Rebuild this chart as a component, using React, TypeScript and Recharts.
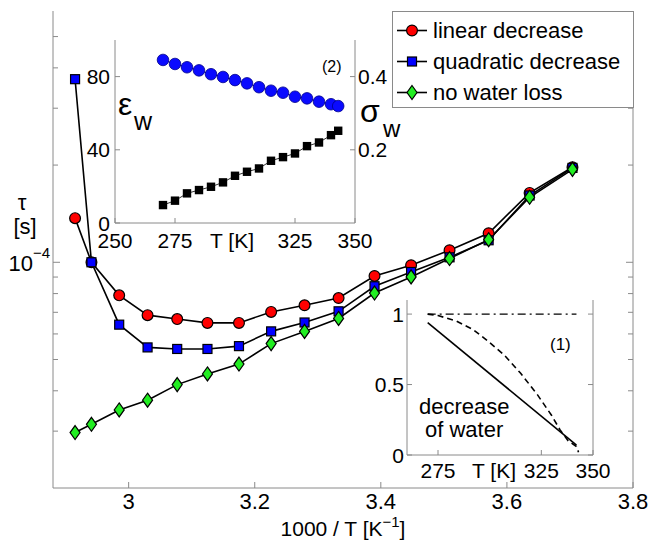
import React from "react";
import { LineChart, Line, XAxis, YAxis, Legend } from "recharts";

const FONT = "'Liberation Sans', Arial, Helvetica, sans-serif";
const AXIS = "#8a8a8a";

// main panel: relaxation time vs 1000/T
const invT = [2.915, 2.941, 2.985, 3.03, 3.077, 3.125, 3.175, 3.226, 3.279, 3.333, 3.39, 3.448, 3.509, 3.571, 3.636, 3.704];
const tauLinear = [1.37e-4, 1.0e-4, 7.9e-5, 6.86e-5, 6.67e-5, 6.49e-5, 6.49e-5, 7.02e-5, 7.36e-5, 7.75e-5, 9.07e-5, 9.79e-5, 1.09e-4, 1.23e-4, 1.64e-4, 1.97e-4];
const tauQuadratic = [3.69e-4, 1.0e-4, 6.41e-5, 5.45e-5, 5.39e-5, 5.39e-5, 5.5e-5, 6.11e-5, 6.51e-5, 7.05e-5, 8.43e-5, 9.33e-5, 1.036e-4, 1.17e-4, 1.61e-4, 1.96e-4];
const tauNoLoss = [2.97e-5, 3.15e-5, 3.49e-5, 3.74e-5, 4.18e-5, 4.51e-5, 4.84e-5, 5.6e-5, 6.11e-5, 6.7e-5, 8.03e-5, 9.01e-5, 1.027e-4, 1.175e-4, 1.59e-4, 1.94e-4];
const xTicks = [3, 3.2, 3.4, 3.6, 3.8];
const yTicks = [3e-5, 4e-5, 5e-5, 6e-5, 7e-5, 8e-5, 9e-5, 1e-4, 2e-4, 3e-4, 4e-4, 5e-4];

// inset (2): permittivity and conductivity of water
const tempK = [270, 275, 280, 285, 290, 295, 300, 305, 310, 315, 320, 325, 330, 335, 340, 343];
const epsW = [89.1, 86.9, 85.1, 83.4, 81.3, 79.8, 78.1, 76.3, 74.2, 72.3, 71.2, 69.0, 68.1, 66.3, 64.9, 63.9];
const sigmaW = [0.049, 0.061, 0.081, 0.09, 0.099, 0.111, 0.129, 0.14, 0.149, 0.17, 0.18, 0.19, 0.21, 0.22, 0.24, 0.252];

// inset (1): water content vs T
const linT = [270, 342];
const linF = [0.94, 0.07];
const quadT = [270, 275, 284, 292, 299, 307, 315, 323, 330, 334, 338, 342, 343];
const quadF = [1.0, 0.99, 0.95, 0.89, 0.81, 0.71, 0.58, 0.43, 0.28, 0.18, 0.1, 0.06, 0.02];
const constT = [270, 342];
const constF = [1, 1];

const SERIES = [
  { key: "lin", name: "linear decrease", color: "#ff0000", marker: "circle" },
  { key: "quad", name: "quadratic decrease", color: "#0000ff", marker: "square" },
  { key: "none", name: "no water loss", color: "#22ee22", marker: "diamond" },
];

function Marker({ cx, cy, kind, color }: { cx: number; cy: number; kind: string; color: string }) {
  if (kind === "square")
    return <rect x={cx - 4.5} y={cy - 4.5} width={9} height={9} fill={color} stroke="#000" strokeWidth={1.2} />;
  if (kind === "diamond")
    return (
      <path d={`M${cx},${cy - 7}L${cx + 5},${cy}L${cx},${cy + 7}L${cx - 5},${cy}Z`} fill={color} stroke="#000" strokeWidth={1.2} />
    );
  return <circle cx={cx} cy={cy} r={5.4} fill={color} stroke="#000" strokeWidth={1.2} />;
}

type TickProps = {
  x?: number;
  y?: number;
  payload?: { value: number };
  side: "bottom" | "top" | "left" | "right";
  len: number;
  size?: number;
  gap?: number;
  fmt?: (v: number) => string | null;
};

function AxisTick({ x = 0, y = 0, payload, side, len, size = 22, gap = 4, fmt }: TickProps) {
  const v = payload ? payload.value : 0;
  const label = fmt ? fmt(v) : null;
  let line: React.ReactNode = null;
  let text: React.ReactNode = null;
  const ts = { fontSize: size, fontFamily: FONT, fill: "#000" };
  if (side === "bottom") {
    line = <line x1={x} x2={x} y1={y} y2={y - len} stroke={AXIS} />;
    if (label) text = <text x={x} y={y + gap} textAnchor="middle" {...ts}>{label}</text>;
  } else if (side === "top") {
    line = <line x1={x} x2={x} y1={y} y2={y + len} stroke={AXIS} />;
  } else if (side === "left") {
    line = <line x1={x} x2={x + len} y1={y} y2={y} stroke={AXIS} />;
    if (label) text = <text x={x - gap} y={y + size * 0.36} textAnchor="end" {...ts}>{label}</text>;
  } else {
    line = <line x1={x} x2={x - len} y1={y} y2={y} stroke={AXIS} />;
    if (label) text = <text x={x + gap} y={y + size * 0.36} textAnchor="start" {...ts}>{label}</text>;
  }
  return (
    <g>
      {line}
      {text}
    </g>
  );
}

function MainYTick({ x = 0, y = 0, payload }: { x?: number; y?: number; payload?: { value: number } }) {
  const v = payload ? payload.value : 0;
  const major = v === 1e-4;
  return (
    <g>
      <line x1={x} x2={x + (major ? 7 : 5)} y1={y} y2={y} stroke={AXIS} />
      {major && (
        <text x={x - 3} y={y + 9} textAnchor="end" fontFamily={FONT} fontSize={22} fill="#000">
          10<tspan dy={-13} fontSize={15}>−4</tspan>
        </text>
      )}
    </g>
  );
}

function LegendBox() {
  return (
    <div
      style={{
        width: 242,
        height: 97,
        boxSizing: "border-box",
        border: `1px solid ${AXIS}`,
        background: "#fff",
        paddingTop: 3,
        fontFamily: FONT,
      }}
    >
      {SERIES.map((s) => (
        <div key={s.key} style={{ display: "flex", alignItems: "center", height: 31 }}>
          <svg width={40} height={31} style={{ flex: "none" }}>
            <line x1={4} x2={34} y1={15.5} y2={15.5} stroke="#000" strokeWidth={1.6} />
            <Marker cx={19} cy={15.5} kind={s.marker} color={s.color} />
          </svg>
          <span style={{ fontSize: 22, color: "#000", whiteSpace: "nowrap" }}>{s.name}</span>
        </div>
      ))}
    </div>
  );
}

function MainChart() {
  const data = invT.map((x, i) => ({ x, lin: tauLinear[i], quad: tauQuadratic[i], none: tauNoLoss[i] }));
  const xfmt = (v: number) => String(v);
  return (
    <LineChart width={650} height={540} data={data} margin={{ top: 11, right: 0, bottom: 0, left: 0 }}>
      <XAxis
        dataKey="x"
        type="number"
        domain={[2.88, 3.8]}
        ticks={xTicks}
        interval={0}
        height={52}
        tickSize={0}
        tickMargin={0}
        axisLine={{ stroke: AXIS }}
        tick={(p: any) => <AxisTick {...p} side="bottom" len={6} gap={21} fmt={xfmt} />}
      />
      <XAxis
        xAxisId="top"
        orientation="top"
        dataKey="x"
        type="number"
        domain={[2.88, 3.8]}
        ticks={xTicks}
        interval={0}
        height={0}
        tickSize={0}
        tickMargin={0}
        axisLine={{ stroke: AXIS }}
        tick={(p: any) => <AxisTick {...p} side="top" len={6} />}
      />
      <YAxis
        type="number"
        scale="log"
        domain={[2e-5, 6e-4]}
        ticks={yTicks}
        interval={0}
        width={53}
        tickSize={0}
        tickMargin={0}
        axisLine={{ stroke: AXIS }}
        tick={(p: any) => <MainYTick {...p} />}
      />
      <YAxis
        yAxisId="right"
        orientation="right"
        type="number"
        scale="log"
        domain={[2e-5, 6e-4]}
        ticks={yTicks}
        interval={0}
        width={17}
        tickSize={0}
        tickMargin={0}
        axisLine={{ stroke: AXIS }}
        tick={(p: any) => <AxisTick {...p} side="right" len={p.payload && p.payload.value === 1e-4 ? 7 : 5} />}
      />
      <Line
        xAxisId="top"
        yAxisId="right"
        dataKey="none"
        stroke="none"
        dot={false}
        legendType="none"
        isAnimationActive={false}
      />
      {SERIES.map((s) => (
        <Line
          key={s.key}
          dataKey={s.key}
          name={s.name}
          type="linear"
          stroke="#000"
          strokeWidth={1.6}
          isAnimationActive={false}
          dot={(p: any) => <Marker key={p.index} cx={p.cx} cy={p.cy} kind={s.marker} color={s.color} />}
        />
      ))}
      <Legend
        layout="vertical"
        align="center"
        verticalAlign="middle"
        wrapperStyle={{ left: 392, top: 11, width: 242, height: 97 }}
        content={() => <LegendBox />}
      />
    </LineChart>
  );
}

function InsetProperties() {
  const data = tempK.map((t, i) => ({ t, eps: epsW[i], sigma: sigmaW[i] }));
  return (
    <LineChart width={650} height={540} data={data} margin={{ top: 40, right: 255, bottom: 287, left: 75 }}>
      <XAxis
        dataKey="t"
        type="number"
        domain={[250, 350]}
        ticks={[250, 275, 325, 350]}
        interval={0}
        height={30}
        tickSize={0}
        tickMargin={0}
        axisLine={{ stroke: AXIS }}
        tick={(p: any) => <AxisTick {...p} side="bottom" len={5} size={21} gap={25} fmt={(v) => String(v)} />}
      />
      <XAxis
        xAxisId="top"
        orientation="top"
        dataKey="t"
        type="number"
        domain={[250, 350]}
        ticks={[250, 275, 325, 350]}
        interval={0}
        height={0}
        tickSize={0}
        tickMargin={0}
        axisLine={{ stroke: AXIS }}
        tick={(p: any) => <AxisTick {...p} side="top" len={5} />}
      />
      <YAxis
        yAxisId="eps"
        type="number"
        domain={[0, 100]}
        ticks={[0, 40, 80]}
        interval={0}
        width={40}
        tickSize={0}
        tickMargin={0}
        axisLine={{ stroke: AXIS }}
        tick={(p: any) => <AxisTick {...p} side="left" len={5} size={21} gap={5} fmt={(v) => String(v)} />}
      />
      <YAxis
        yAxisId="sig"
        orientation="right"
        type="number"
        domain={[0, 0.5]}
        ticks={[0.2, 0.4]}
        interval={0}
        width={40}
        tickSize={0}
        tickMargin={0}
        axisLine={{ stroke: AXIS }}
        tick={(p: any) => <AxisTick {...p} side="right" len={5} size={21} gap={3} fmt={(v) => String(v)} />}
      />
      <Line xAxisId="top" yAxisId="eps" dataKey="eps" stroke="none" dot={false} isAnimationActive={false} />
      <Line
        yAxisId="eps"
        dataKey="eps"
        stroke="#00006a"
        strokeWidth={0.8}
        isAnimationActive={false}
        dot={(p: any) => <circle key={p.index} cx={p.cx} cy={p.cy} r={5.8} fill="#0a0aff" stroke="#00008a" strokeWidth={0.8} />}
      />
      <Line
        yAxisId="sig"
        dataKey="sigma"
        stroke="#000"
        strokeWidth={0.8}
        isAnimationActive={false}
        dot={(p: any) => <rect key={p.index} x={p.cx - 4.2} y={p.cy - 4.2} width={8.4} height={8.4} fill="#000" />}
      />
    </LineChart>
  );
}

function InsetWater() {
  const lin = linT.map((t, i) => ({ t, f: linF[i] }));
  const quad = quadT.map((t, i) => ({ t, f: quadF[i] }));
  const flat = constT.map((t, i) => ({ t, f: constF[i] }));
  return (
    <LineChart width={650} height={540} margin={{ top: 300, right: 37, bottom: 55, left: 367 }}>
      <XAxis
        dataKey="t"
        type="number"
        domain={[260, 350]}
        ticks={[275, 325, 350]}
        interval={0}
        height={30}
        tickSize={0}
        tickMargin={0}
        axisLine={{ stroke: AXIS }}
        tick={(p: any) => <AxisTick {...p} side="bottom" len={5} size={21} gap={23} fmt={(v) => String(v)} />}
      />
      <XAxis
        xAxisId="top"
        orientation="top"
        dataKey="t"
        type="number"
        domain={[260, 350]}
        ticks={[275, 325, 350]}
        interval={0}
        height={0}
        tickSize={0}
        tickMargin={0}
        axisLine={{ stroke: AXIS }}
        tick={(p: any) => <AxisTick {...p} side="top" len={5} />}
      />
      <YAxis
        type="number"
        domain={[0, 1.1]}
        ticks={[0, 0.5, 1]}
        interval={0}
        width={40}
        tickSize={0}
        tickMargin={0}
        axisLine={{ stroke: AXIS }}
        tick={(p: any) => <AxisTick {...p} side="left" len={5} size={21} gap={3} fmt={(v) => String(v)} />}
      />
      <YAxis
        yAxisId="right"
        orientation="right"
        type="number"
        domain={[0, 1.1]}
        ticks={[0, 0.5, 1]}
        interval={0}
        width={20}
        tickSize={0}
        tickMargin={0}
        axisLine={{ stroke: AXIS }}
        tick={(p: any) => <AxisTick {...p} side="right" len={5} />}
      />
      <Line xAxisId="top" yAxisId="right" data={flat} dataKey="f" stroke="none" dot={false} isAnimationActive={false} />
      <Line data={flat} dataKey="f" stroke="#000" strokeWidth={1.4} strokeDasharray="8 4 2 4" dot={false} isAnimationActive={false} />
      <Line data={quad} dataKey="f" type="linear" stroke="#000" strokeWidth={1.6} strokeDasharray="6 4" dot={false} isAnimationActive={false} />
      <Line data={lin} dataKey="f" stroke="#000" strokeWidth={1.6} dot={false} isAnimationActive={false} />
    </LineChart>
  );
}

function Annotations() {
  const t = { fontFamily: FONT, fill: "#000" };
  return (
    <svg width={650} height={540} style={{ position: "absolute", left: 0, top: 0, pointerEvents: "none" }}>
      <text x={22} y={210} textAnchor="middle" fontSize={22} {...t}>τ</text>
      <text x={25} y={234} textAnchor="middle" fontSize={22} {...t}>[s]</text>
      <text x={343} y={536} textAnchor="middle" fontSize={21} {...t}>
        1000 / T [K<tspan dy={-9} fontSize={15}>−1</tspan>
        <tspan dy={9}>]</tspan>
      </text>
      <text x={118} y={115} fontSize={32} {...t}>ε</text>
      <text x={134} y={130} fontSize={25} {...t}>w</text>
      <text x={360} y={122} fontSize={32} {...t}>σ</text>
      <text x={383} y={137} fontSize={24} {...t}>w</text>
      <text x={322} y={72} fontSize={16} {...t}>(2)</text>
      <text x={232} y={248} textAnchor="middle" fontSize={21} {...t}>T [K]</text>
      <text x={550} y={350} fontSize={17} {...t}>(1)</text>
      <text x={419} y={414} fontSize={22} {...t}>decrease</text>
      <text x={425} y={437} fontSize={22} {...t}>of water</text>
      <text x={494} y={478} textAnchor="middle" fontSize={21} {...t}>T [K]</text>
    </svg>
  );
}

const layer: React.CSSProperties = { position: "absolute", left: 0, top: 0 };

export default function App() {
  return (
    <div style={{ position: "absolute", left: 0, top: 0, width: 650, height: 540, background: "#fff", fontFamily: FONT }}>
      <div style={layer}>
        <MainChart />
      </div>
      <div style={{ position: "absolute", left: 115, top: 40, width: 240, height: 183, background: "#fff" }} />
      <div style={layer}>
        <InsetProperties />
      </div>
      <div style={{ position: "absolute", left: 407, top: 300, width: 186, height: 155, background: "#fff" }} />
      <div style={layer}>
        <InsetWater />
      </div>
      <Annotations />
    </div>
  );
}
